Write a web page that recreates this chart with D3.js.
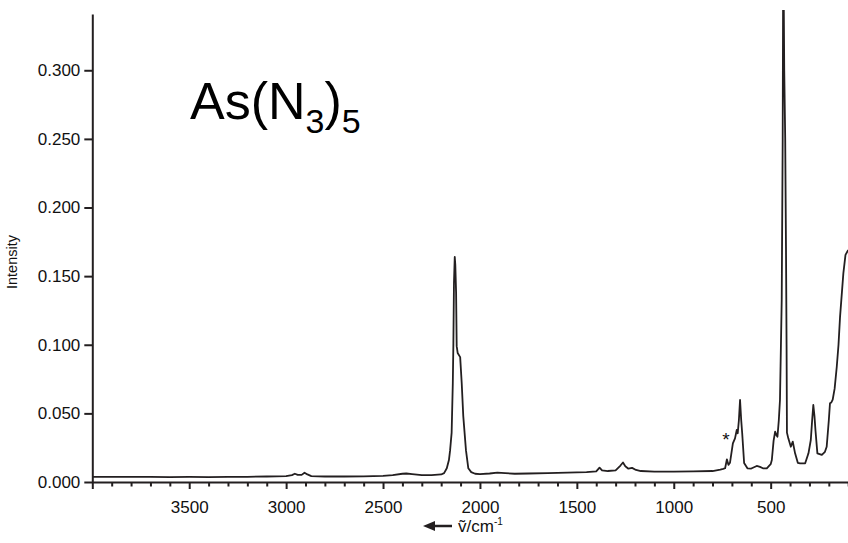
<!DOCTYPE html>
<html>
<head>
<meta charset="utf-8">
<script src="https://cdn.jsdelivr.net/npm/d3@7/dist/d3.min.js"></script>
<style>
  body { margin: 0; background: #fff; }
  svg { display: block; font-family: "Liberation Sans", Arial, sans-serif; }
</style>
</head>
<body>
<div id="canvas"></div>
<script>
// Raman spectrum values (wavenumber in cm-1, intensity)
var waveNumbers = [4000, 3900, 3800, 3700, 3600, 3500, 3400, 3300, 3200, 3100, 3000, 2970, 2955, 2940, 2920, 2905, 2890, 2870,
    2800, 2700, 2600, 2500, 2450, 2400, 2380, 2350, 2300, 2250, 2200, 2185, 2171, 2160, 2154, 2146, 2140, 2137, 2134, 2130,
    2127, 2123, 2120, 2115, 2102, 2094, 2086, 2072, 2060, 2045, 2025, 2000, 1950, 1910, 1870, 1820, 1750, 1650, 1550, 1450,
    1400, 1383, 1370, 1340, 1300, 1275, 1262, 1250, 1234, 1215, 1195, 1170, 1100, 1000, 900, 800, 760, 745, 735, 726, 718,
    710, 695, 684, 675, 670, 664, 658, 652, 647, 637, 620, 600, 572, 555, 540, 520, 500, 494, 485, 477, 470, 465, 458, 452,
    443, 438, 435, 430, 425, 421, 418, 416, 409, 396, 386, 374, 360, 348, 322, 305, 293, 286, 280, 274, 269, 259, 236, 220,
    211, 200, 194, 187, 180, 170, 159, 150, 142, 125, 114, 100];
var intensities = [0.0038, 0.0037, 0.0038, 0.0037, 0.0036, 0.0037, 0.0036, 0.0037, 0.0038, 0.0040, 0.0043, 0.0050, 0.0060,
    0.0052, 0.0052, 0.0068, 0.0055, 0.0043, 0.0040, 0.0040, 0.0041, 0.0045, 0.0050, 0.0060, 0.0062, 0.0057, 0.0050, 0.0050,
    0.0055, 0.0065, 0.010, 0.016, 0.023, 0.036, 0.072, 0.101, 0.145, 0.164, 0.158, 0.138, 0.099, 0.094, 0.091, 0.072, 0.048,
    0.023, 0.010, 0.0072, 0.0060, 0.0058, 0.0062, 0.0068, 0.0065, 0.0060, 0.0062, 0.0065, 0.0068, 0.0072, 0.0078, 0.0105,
    0.0085, 0.0080, 0.0085, 0.0120, 0.0142, 0.0115, 0.0097, 0.0103, 0.0088, 0.0080, 0.0075, 0.0075, 0.0077, 0.0080, 0.0090,
    0.0095, 0.0100, 0.0165, 0.0125, 0.0140, 0.0282, 0.0318, 0.0379, 0.0355, 0.045, 0.0598, 0.045, 0.0357, 0.0138, 0.0100,
    0.0098, 0.0117, 0.0110, 0.0100, 0.0100, 0.013, 0.016, 0.030, 0.0367, 0.034, 0.033, 0.045, 0.0598, 0.1327, 0.25, 0.40,
    0.30, 0.25, 0.1715, 0.10, 0.036, 0.0318, 0.0257, 0.0294, 0.0209, 0.014, 0.0136, 0.0136, 0.0209, 0.0306, 0.045, 0.0561,
    0.048, 0.0379, 0.0209, 0.0197, 0.022, 0.0257, 0.045, 0.0574, 0.058, 0.060, 0.068, 0.084, 0.10, 0.1205, 0.152, 0.1655,
    0.169];

var xMajorTicks = [4000, 3500, 3000, 2500, 2000, 1500, 1000, 500];
var xMinorTicks = [3900, 3800, 3700, 3600, 3400, 3300, 3200, 3100, 2900, 2800, 2700, 2600, 2400, 2300, 2200, 2100,
    1900, 1800, 1700, 1600, 1400, 1300, 1200, 1100, 900, 800, 700, 600, 400, 300, 200, 100];
var yTicks = [0, 0.05, 0.10, 0.15, 0.20, 0.25, 0.30];

var width = 848,
    height = 543,
    ink = '#231f20';

var x = d3.scaleLinear().domain([4000, 100]).range([92.3, 848.2]);
var y = d3.scaleLinear().domain([0, 0.341]).range([482, 14]);

var svg = d3.select("#canvas")
    .append("svg")
    .attr("width", width)
    .attr("height", height);

svg.append("clipPath")
    .attr("id", "plot-clip")
    .append("rect")
    .attr("x", 92)
    .attr("y", 10)
    .attr("width", 760)
    .attr("height", 473);

// spectrum
var points = waveNumbers.map(function(w, i) { return [w, intensities[i]]; });
var line = d3.line()
    .x(function(d) { return x(d[0]); })
    .y(function(d) { return y(d[1]); });

svg.append("path")
    .datum(points)
    .attr("clip-path", "url(#plot-clip)")
    .attr("d", line)
    .style("fill", "none")
    .style("stroke", ink)
    .style("stroke-width", 1.8)
    .style("stroke-linejoin", "round");

// x axis, minor ticks first then major with labels
svg.append("g")
    .attr("transform", "translate(0,482)")
    .call(d3.axisBottom(x).tickValues(xMinorTicks).tickSize(4.5).tickSizeOuter(0).tickFormat(""))
    .call(function(g) { g.select(".domain").remove(); });

var xAxis = svg.append("g")
    .attr("transform", "translate(0,482)")
    .call(d3.axisBottom(x)
        .tickValues(xMajorTicks)
        .tickSize(7)
        .tickSizeOuter(0)
        .tickPadding(12)
        .tickFormat(function(d) { return d === 4000 ? "" : d; }));

// y axis
var yAxis = svg.append("g")
    .attr("transform", "translate(92.3,0)")
    .call(d3.axisLeft(y)
        .tickValues(yTicks)
        .tickSize(8)
        .tickSizeOuter(0)
        .tickPadding(4)
        .tickFormat(d3.format(".3f")));

svg.selectAll(".domain, .tick line")
    .style("stroke", ink)
    .style("stroke-width", 2);
svg.selectAll(".tick text")
    .style("font-family", '"Liberation Sans", Arial, sans-serif')
    .style("font-size", "17px")
    .style("fill", "#111");

// axis titles
svg.append("text")
    .attr("transform", "translate(17,262) rotate(-90)")
    .attr("text-anchor", "middle")
    .style("font-size", "14.5px")
    .style("fill", "#111")
    .text("Intensity");

svg.append("path")
    .attr("d", "M452,526 L433,526")
    .style("stroke", ink)
    .style("stroke-width", 2.5);
svg.append("path")
    .attr("d", "M423,526 L435,521 L435,531 Z")
    .style("fill", ink);

var xlab = svg.append("text")
    .attr("x", 458)
    .attr("y", 532)
    .style("font-size", "17px")
    .style("fill", "#111");
xlab.append("tspan").text("\u1E7D/cm");
xlab.append("tspan").attr("dy", -7).style("font-size", "10px").text("-1");

// compound label
var title = svg.append("text")
    .attr("x", 190)
    .attr("y", 119)
    .style("font-size", "52px")
    .style("fill", "#000");
title.append("tspan").text("As(N");
title.append("tspan").attr("dy", 14).style("font-size", "34px").text("3");
title.append("tspan").attr("dy", -14).text(")");
title.append("tspan").attr("dy", 14).style("font-size", "34px").text("5");

// impurity mark
svg.append("text")
    .attr("x", 726)
    .attr("y", 446)
    .attr("text-anchor", "middle")
    .style("font-size", "19px")
    .style("fill", "#111")
    .text("*");
</script>
</body>
</html>
